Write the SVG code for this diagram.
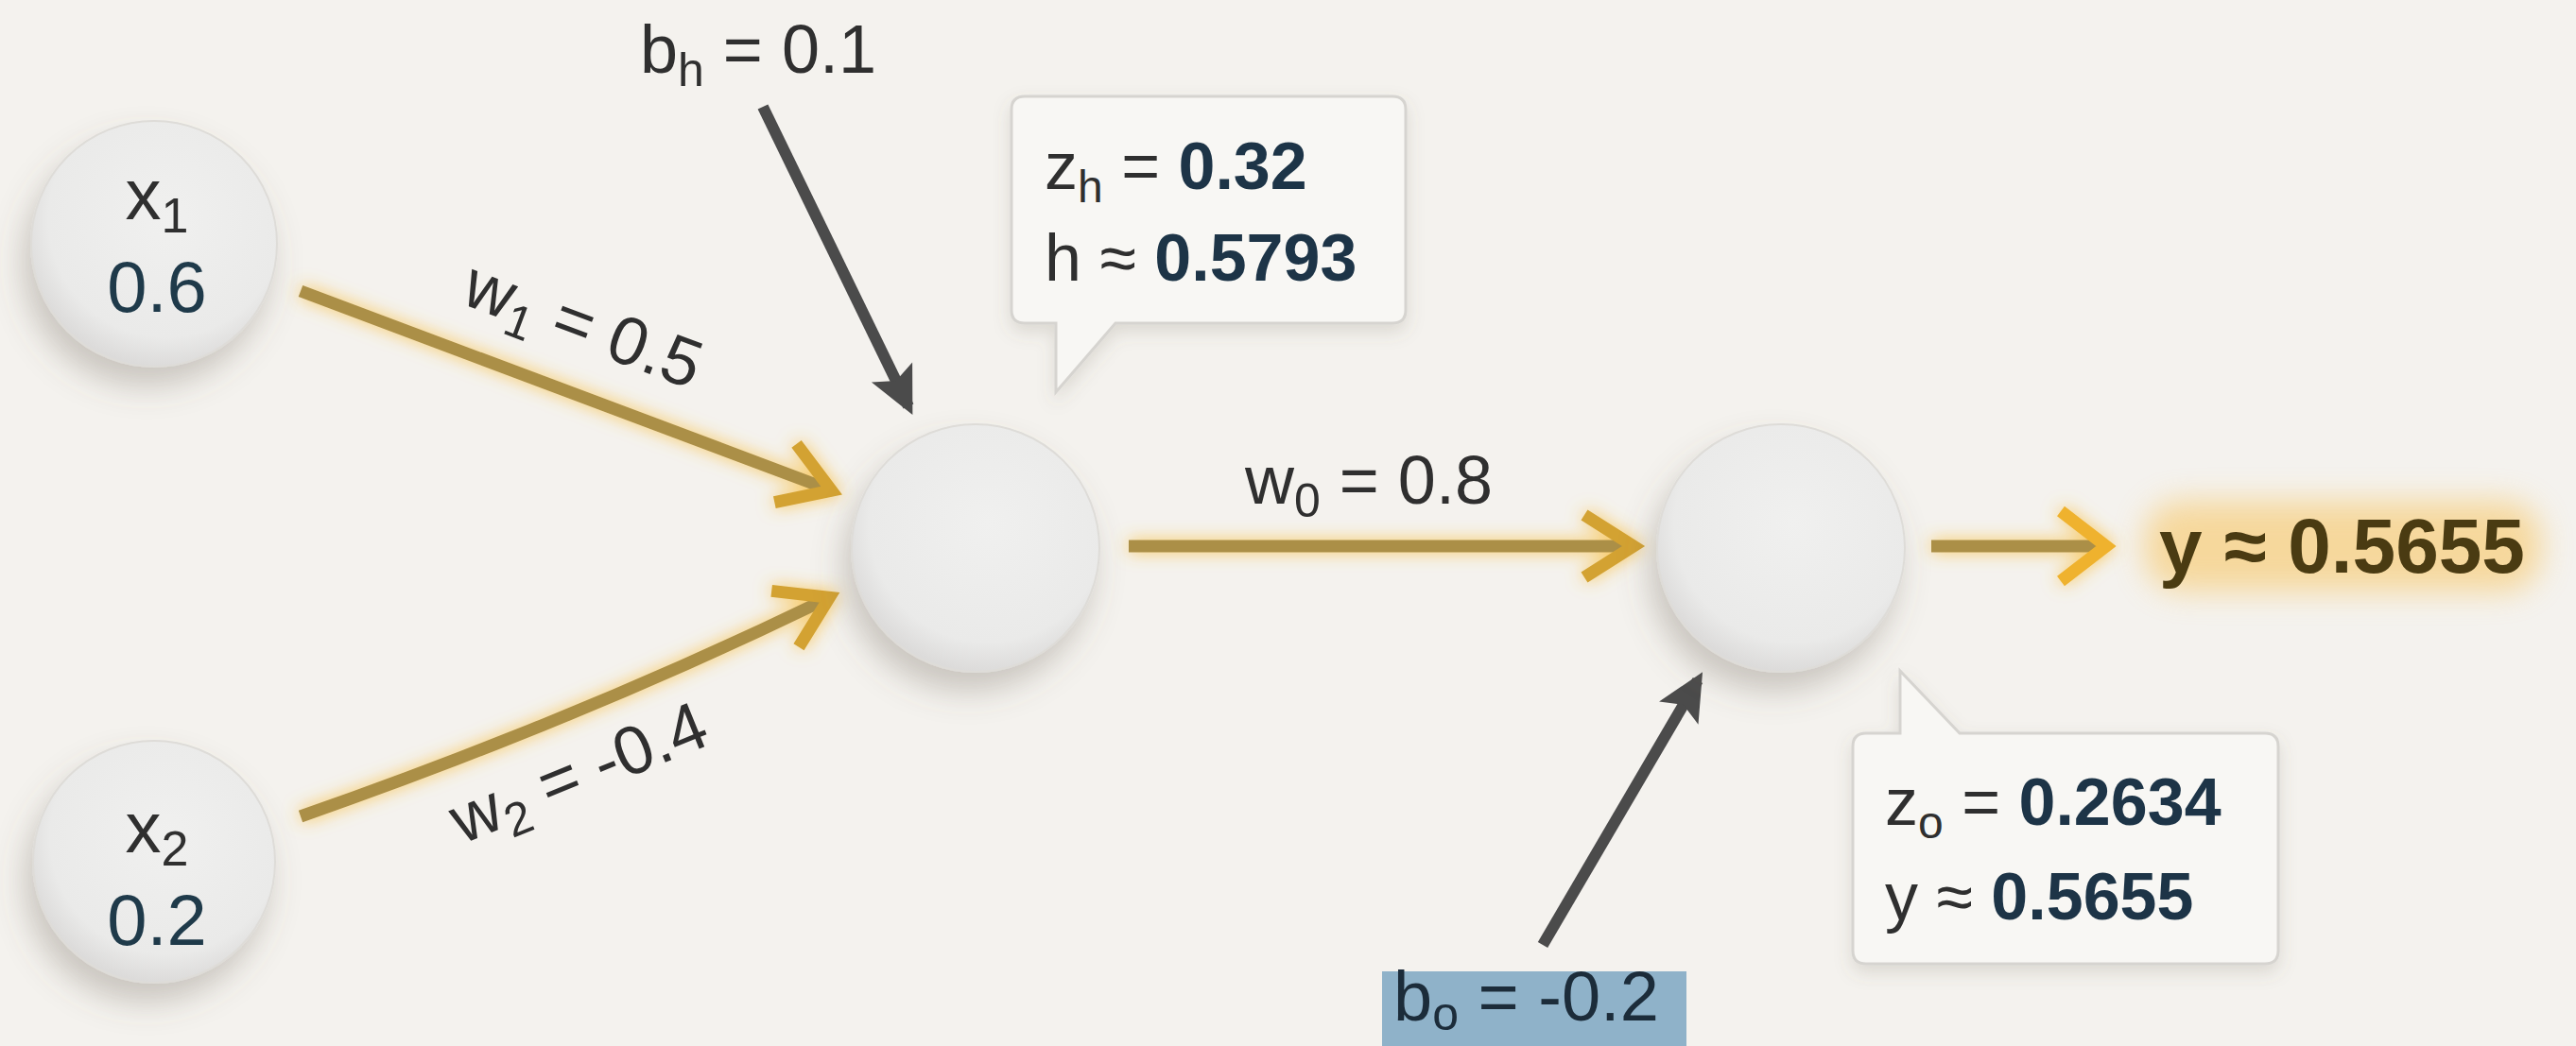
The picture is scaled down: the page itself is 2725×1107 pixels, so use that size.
<svg xmlns="http://www.w3.org/2000/svg" width="2725" height="1107" viewBox="0 0 2725 1107">
<defs>
<style>
text{font-family:"Liberation Sans",Arial,sans-serif;fill:#2f2f2f}
.nl{font-size:76px}
.val{fill:#1f3a4a}
.el{font-size:72px}
.cl{font-size:70px}
.cv{font-weight:bold;fill:#1d3447}
.node{fill:url(#ng);stroke:#dedcd8;stroke-width:2;filter:url(#nshadow)}
.gold{fill:none;stroke:#ab8f47;stroke-width:13}
.dark{fill:none;stroke:#4b4b4b;stroke-width:12}
.callout{fill:#f8f7f4;stroke:#d6d4d0;stroke-width:3;filter:url(#cshadow)}
</style>
<radialGradient id="ng" cx="0.55" cy="0.4" r="0.6">
<stop offset="0" stop-color="#f0f0ef"/>
<stop offset="0.8" stop-color="#eaeae9"/>
<stop offset="1" stop-color="#dcdbda"/>
</radialGradient>
<linearGradient id="gw1" gradientUnits="userSpaceOnUse" x1="318" y1="308" x2="880" y2="520">
<stop offset="0" stop-color="#9e8748"/><stop offset="1" stop-color="#d9a834"/>
</linearGradient>
<linearGradient id="gw2" gradientUnits="userSpaceOnUse" x1="318" y1="864" x2="880" y2="632">
<stop offset="0" stop-color="#9e8748"/><stop offset="1" stop-color="#d9a834"/>
</linearGradient>
<filter id="nshadow" x="-40%" y="-40%" width="180%" height="190%">
<feDropShadow dx="-8" dy="20" stdDeviation="16" flood-color="#6b6255" flood-opacity="0.3"/>
</filter>
<filter id="cshadow" x="-20%" y="-20%" width="140%" height="150%">
<feDropShadow dx="0" dy="8" stdDeviation="9" flood-color="#6b6255" flood-opacity="0.18"/>
</filter>
<filter id="glow" filterUnits="userSpaceOnUse" x="0" y="0" width="2725" height="1107">
<feGaussianBlur in="SourceAlpha" stdDeviation="9" result="b"/>
<feFlood flood-color="#f9bd3a" flood-opacity="0.8"/>
<feComposite in2="b" operator="in" result="g"/>
<feMerge><feMergeNode in="g"/><feMergeNode in="SourceGraphic"/></feMerge>
</filter>
<filter id="soft" x="-30%" y="-60%" width="160%" height="220%">
<feGaussianBlur stdDeviation="16"/>
</filter>
<marker id="gh" markerUnits="userSpaceOnUse" markerWidth="10" markerHeight="10" refX="0" refY="0" orient="auto" overflow="visible">
<path d="M-46,-33 L6,0 L-46,33" fill="none" stroke="#d3a232" stroke-width="13"/>
</marker>
<marker id="oh" markerUnits="userSpaceOnUse" markerWidth="10" markerHeight="10" refX="0" refY="0" orient="auto" overflow="visible">
<path d="M-42,-37 L6,0 L-42,37" fill="none" stroke="#efb22e" stroke-width="13"/>
</marker>
<marker id="dh" markerUnits="userSpaceOnUse" markerWidth="10" markerHeight="10" refX="0" refY="0" orient="auto" overflow="visible">
<path d="M10,0 L-40,-24 L-30,0 L-40,24 Z" fill="#4b4b4b"/>
</marker>
</defs>

<rect width="2725" height="1107" fill="#f4f2ee"/>

<g id="connectors">
<g filter="url(#glow)">
<path id="e-w1" class="gold" d="M318,308 L874,517" stroke="url(#gw1)" marker-end="url(#gh)"/>
<path id="e-w2" class="gold" d="M318,864 Q610,762 872,635" stroke="url(#gw2)" marker-end="url(#gh)"/>
<path id="e-w0" class="gold" d="M1194,578 L1722,578" marker-end="url(#gh)"/>
<path id="e-out" class="gold" d="M2043,578 L2222,578" stroke="#e9b53f" marker-end="url(#oh)"/>
</g>
<path id="e-bh" class="dark" d="M807,113 L961,430" marker-end="url(#dh)"/>
<path id="e-bo" class="dark" d="M1632,1000 L1796,720" marker-end="url(#dh)"/>
<text class="el" transform="translate(617,344) rotate(20.5)" text-anchor="middle" y="24">w<tspan font-size="50" dy="14">1</tspan><tspan dy="-14"> = 0.5</tspan></text>
<text class="el" transform="translate(612,818) rotate(-22)" text-anchor="middle" y="24">w<tspan font-size="50" dy="14">2</tspan><tspan dy="-14"> = -0.4</tspan></text>
<text class="el" x="1317" y="533">w<tspan font-size="50" dy="14">0</tspan><tspan dy="-14"> = 0.8</tspan></text>
</g>

<g id="node-x1">
<circle class="node" cx="163" cy="258" r="130"/>
<text class="nl" x="166" y="232" text-anchor="middle">x<tspan font-size="52" dy="14">1</tspan></text>
<text class="nl val" x="166" y="330" text-anchor="middle">0.6</text>
</g>

<g id="node-x2">
<circle class="node" cx="163" cy="912" r="128"/>
<text class="nl" x="166" y="902" text-anchor="middle">x<tspan font-size="52" dy="14">2</tspan></text>
<text class="nl val" x="166" y="1000" text-anchor="middle">0.2</text>
</g>

<g id="node-hidden">
<circle class="node" cx="1032" cy="580" r="131"/>
</g>

<g id="node-output">
<circle class="node" cx="1884" cy="580" r="131"/>
</g>

<g id="label-bh">
<text class="el" x="677" y="77">b<tspan font-size="50" dy="14">h</tspan><tspan dy="-14"> = 0.1</tspan></text>
</g>

<g id="label-bo">
<rect x="1462" y="1028" width="322" height="79" fill="#8fb2c9"/>
<text class="el" x="1474" y="1080" style="font-size:74px;fill:#1c2c3a">b<tspan font-size="50" dy="10">o</tspan><tspan dy="-10"> = -0.2</tspan></text>
</g>

<g id="callout-hidden">
<path class="callout" d="M1084,102 H1473 Q1487,102 1487,116 V328 Q1487,342 1473,342 H1180 L1117,415 L1117,342 H1084 Q1070,342 1070,328 V116 Q1070,102 1084,102 Z"/>
<text class="cl" x="1105" y="200">z<tspan font-size="48" dy="14">h</tspan><tspan dy="-14"> = </tspan><tspan class="cv">0.32</tspan></text>
<text class="cl" x="1105" y="297">h ≈ <tspan class="cv">0.5793</tspan></text>
</g>

<g id="callout-output">
<path class="callout" d="M1974,776 H2010 L2010,710 L2073,776 H2396 Q2410,776 2410,790 V1006 Q2410,1020 2396,1020 H1974 Q1960,1020 1960,1006 V790 Q1960,776 1974,776 Z"/>
<text class="cl" x="1994" y="873">z<tspan font-size="48" dy="14">o</tspan><tspan dy="-14"> = </tspan><tspan class="cv">0.2634</tspan></text>
<text class="cl" x="1994" y="973">y ≈ <tspan class="cv">0.5655</tspan></text>
</g>

<g id="output-label">
<rect x="2268" y="530" width="420" height="96" rx="40" fill="#f8c35a" opacity="0.55" filter="url(#soft)"/>
<text x="2284" y="606" style="font-size:82px;font-weight:bold;fill:#4a3b12">y ≈ 0.5655</text>
</g>
</svg>
